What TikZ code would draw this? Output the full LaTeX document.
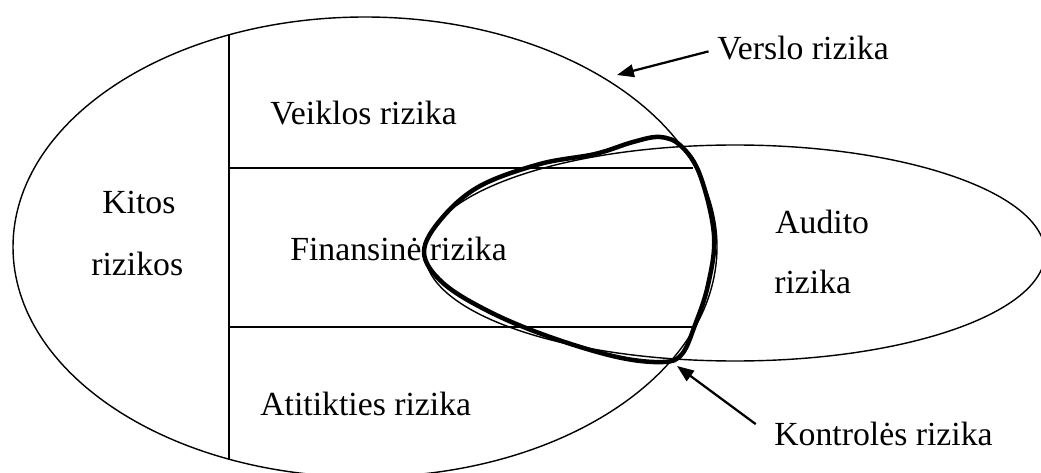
\documentclass[tikz,border=0pt]{standalone}
\usepackage{fontspec}
\setmainfont{Liberation Serif}
\usepackage{tikz}
\usetikzlibrary{positioning,arrows.meta}

\tikzset{
  lbl/.style={font=\fontsize{24}{28}\selectfont, inner sep=0pt, anchor=base west},
  rim/.style={line width=1pt},
  arr/.style={line width=1.6pt, -{Triangle[length=12pt,width=9pt]}},
}

\begin{document}
\begin{tikzpicture}[x=0.025cm, y=-0.025cm]
    \clip (0,0) rectangle (1041,473);

    % verslo rizika and audito rizika
    \draw [rim] (365,247) ellipse [x radius=352, y radius=230];
    \draw [rim] (735,253) ellipse [x radius=310, y radius=108];

    % dividers inside the big ellipse
    \begin{scope}
        \clip (365,247) ellipse [x radius=352, y radius=230];
        \draw [rim] (229,0) -- (229,473);
    \end{scope}
    \draw [rim] (229,168) -- (693,168);
    \draw [rim] (229,327) -- (693,327);

    \node [lbl] (veik) at (270,124) {Veiklos rizika};
    \node [lbl] (kit1) at (102,213) {Kitos};
    \node [lbl] (kit2) at (91,275) {rizikos};
    \node [lbl] (fin) at (290,260) {Finansinė rizika};
    \node [lbl] (atit) at (260,415) {Atitikties rizika};
    \node [lbl] (aud1) at (775,233) {Audito};
    \node [lbl] (aud2) at (774,293) {rizika};
    \node [lbl] (vers) at (717,60) {Verslo rizika};
    \node [lbl] (kont) at (774,445) {Kontrolės rizika};

    % kontroles rizika loop
    \draw [line width=3.2pt, line join=round]
        plot [smooth cycle, tension=0.6] coordinates {
        (424,252) (442,218) (480,186) (540,164) (595,154)
        (633,142) (660,137) (681,146) (700,175) (714,235)
        (708,285) (695,325) (682,354) (663,362) (617,357)
        (550,337) (490,312) (443,283)};

    \coordinate (vtip) at (617,75);
    \coordinate (ktip) at (677,366);
    \draw [arr] ([xshift=-6pt,yshift=-2pt]vers.west) -- (vtip);
    \draw [arr] ([xshift=-13pt,yshift=-2pt]kont.north west) -- (ktip);
\end{tikzpicture}
\end{document}
